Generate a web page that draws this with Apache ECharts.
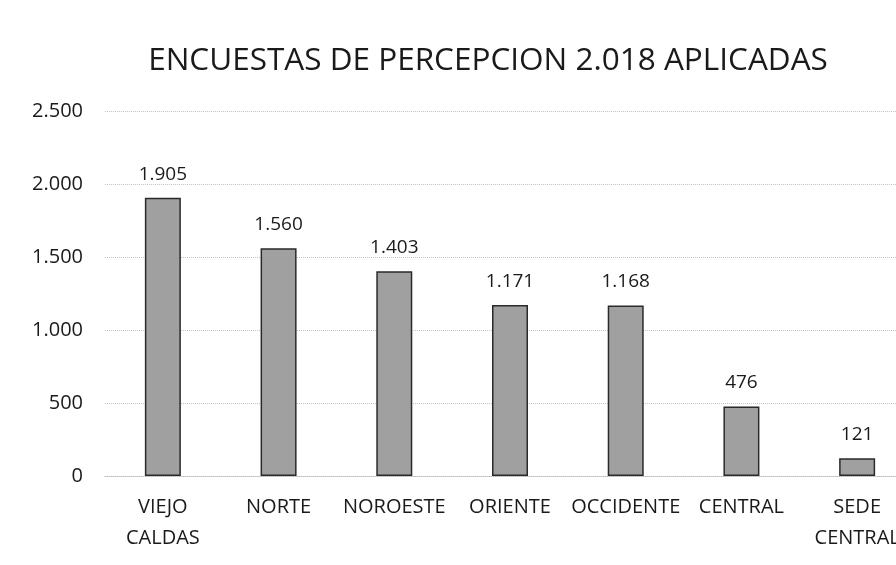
<!DOCTYPE html>
<html>
<head>
<meta charset="utf-8">
<script src="https://cdn.jsdelivr.net/npm/echarts@6/dist/echarts.min.js"></script>
<style>
  html, body { margin: 0; padding: 0; background: #fff; }
  #chart { width: 896px; height: 565px; }
</style>
</head>
<body>
<div id="chart"></div>
<script>
// encuestas aplicadas por zona
var zonas = ['VIEJO\nCALDAS', 'NORTE', 'NOROESTE', 'ORIENTE', 'OCCIDENTE', 'CENTRAL', 'SEDE\nCENTRAL'];
var encuestas = [1905, 1560, 1403, 1171, 1168, 476, 121];
var ticksY = [0, 500, 1000, 1500, 2000, 2500];

function fmtMiles(v) {
    return String(v).replace(/\B(?=(\d{3})+(?!\d))/g, '.');
}

var chart = echarts.init(document.getElementById('chart'));
var option = {
    backgroundColor: '#fff',
    textStyle: { fontFamily: 'Open Sans' },
    title: {
        text: 'ENCUESTAS DE PERCEPCION 2.018 APLICADAS',
        left: 483,
        top: 40,
        textAlign: 'center',
        textStyle: { fontSize: 31.5, fontWeight: 'normal', color: '#1a1a1a', fontFamily: 'Open Sans' }
    },
    // el grafico original queda recortado a la derecha
    grid: { left: 105, width: 810, top: 111, bottom: 89, outerBoundsMode: 'none', containLabel: false },
    xAxis: {
        type: 'category',
        data: zonas,
        axisLine: { show: true, lineStyle: { color: '#bbb', type: 'dotted' } },
        axisTick: { show: false },
        axisLabel: { color: '#1a1a1a', fontSize: 20, margin: 16, lineHeight: 31, interval: 0 }
    },
    yAxis: {
        type: 'value',
        min: ticksY[0],
        max: ticksY[ticksY.length - 1],
        interval: 500,
        axisLine: { show: false },
        axisTick: { show: false },
        splitLine: { lineStyle: { color: '#c4c4c4', type: 'dotted' } },
        axisLabel: { color: '#1a1a1a', fontSize: 20, margin: 22, formatter: fmtMiles }
    },
    series: [{
        type: 'bar',
        data: encuestas,
        barWidth: 36,
        itemStyle: { color: '#a0a0a0', borderColor: '#2a2a2a', borderWidth: 1.5 },
        label: {
            show: true,
            position: 'top',
            distance: 14,
            color: '#1a1a1a',
            fontSize: 19,
            formatter: function (p) { return fmtMiles(p.value); }
        }
    }]
};
chart.setOption(option);
</script>
</body>
</html>
